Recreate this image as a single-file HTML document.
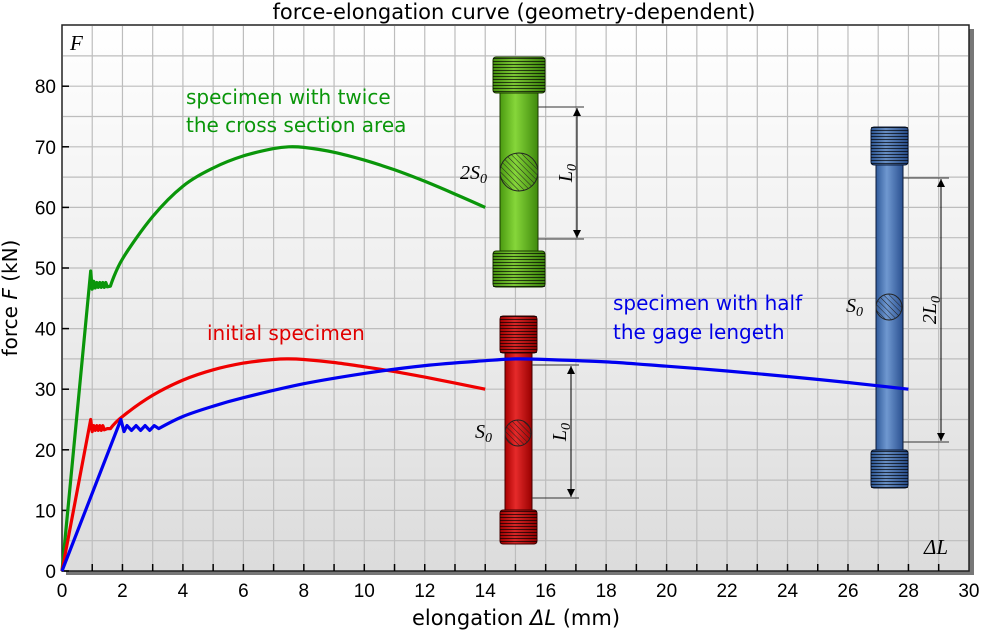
<!DOCTYPE html>
<html><head><meta charset="utf-8"><style>
html,body{margin:0;padding:0;background:#fff;}
svg{display:block;font-family:"Liberation Sans",sans-serif;}
.dv{font-family:"DejaVu Sans",sans-serif;}
</style></head><body>
<svg id="chart" width="981" height="631" viewBox="0 0 981 631">
<defs>
<linearGradient id="bg" x1="0" y1="0" x2="0" y2="1"><stop offset="0" stop-color="#ffffff"/><stop offset="1" stop-color="#dcdcdc"/></linearGradient>
<linearGradient id="gG" x1="0" x2="1"><stop offset="0" stop-color="#4a9a10"/><stop offset="0.4" stop-color="#86d63a"/><stop offset="1" stop-color="#3f8a0c"/></linearGradient>
<linearGradient id="gR" x1="0" x2="1"><stop offset="0" stop-color="#a00"/><stop offset="0.4" stop-color="#e52a2a"/><stop offset="1" stop-color="#900"/></linearGradient>
<linearGradient id="gB" x1="0" x2="1"><stop offset="0" stop-color="#2f5a9a"/><stop offset="0.4" stop-color="#6f98d0"/><stop offset="1" stop-color="#2a5090"/></linearGradient>
<pattern id="hatch" width="4" height="4" patternUnits="userSpaceOnUse" patternTransform="rotate(-45)"><rect width="4" height="4" fill="none"/><line x1="0" y1="0" x2="0" y2="4" stroke="#222" stroke-width="1"/></pattern>
<pattern id="thread" width="6" height="3" patternUnits="userSpaceOnUse"><line x1="0" y1="1.5" x2="6" y2="1.5" stroke="#000" stroke-opacity="0.7" stroke-width="1.2"/></pattern>
<marker id="arr" markerWidth="8" markerHeight="10" refX="8" refY="5" orient="auto"><path d="M0,1 L8,5 L0,9 z" fill="#000"/></marker>
</defs>
<text class="dv" x="514" y="19" text-anchor="middle" font-size="21">force-elongation curve (geometry-dependent)</text>
<rect x="66" y="29" width="908" height="546" fill="#777"/>
<rect x="62" y="25" width="907" height="546" fill="url(#bg)" stroke="#222" stroke-width="1.5"/>
<g id="grid"></g>
<g id="ticks"></g>
<text x="70" y="50" font-family="Liberation Serif,serif" font-style="italic" font-size="21">F</text>
<text x="924" y="554" font-family="Liberation Serif,serif" font-style="italic" font-size="21">ΔL</text>
<text class="dv" x="516" y="625" text-anchor="middle" font-size="21">elongation <tspan font-style="italic">ΔL</tspan> (mm)</text>
<text class="dv" transform="translate(17,298) rotate(-90)" text-anchor="middle" font-size="20">force <tspan font-style="italic">F</tspan> (kN)</text>

<g>
<rect x="500" y="90" width="38" height="163" fill="url(#gG)" stroke="#1a3a00"/>
<rect x="493" y="57" width="52" height="36" rx="3" fill="url(#gG)" stroke="#1a3a00"/><rect x="493" y="57" width="52" height="36" fill="url(#thread)"/>
<rect x="493" y="251" width="52" height="36" rx="3" fill="url(#gG)" stroke="#1a3a00"/><rect x="493" y="251" width="52" height="36" fill="url(#thread)"/>
<circle cx="519" cy="172" r="19" fill="url(#hatch)" stroke="#222"/>
<line x1="538" y1="107" x2="584" y2="107" stroke="#333"/><line x1="538" y1="239" x2="584" y2="239" stroke="#333"/>
<line x1="577" y1="140" x2="577" y2="108" stroke="#000" marker-end="url(#arr)"/><line x1="577" y1="200" x2="577" y2="238" stroke="#000" marker-end="url(#arr)"/><line x1="577" y1="140" x2="577" y2="200" stroke="#000"/>
<text x="460" y="179" font-family="Liberation Serif,serif" font-style="italic" font-size="20">2S<tspan font-size="14" dy="4">0</tspan></text>
<text transform="translate(572,173) rotate(-90)" text-anchor="middle" font-family="Liberation Serif,serif" font-style="italic" font-size="20">L<tspan font-size="14" dy="4">0</tspan></text>
</g>
<g>
<rect x="505" y="350" width="27" height="162" fill="url(#gR)" stroke="#400"/>
<rect x="500" y="316" width="37" height="37" rx="3" fill="url(#gR)" stroke="#400"/><rect x="500" y="316" width="37" height="37" fill="url(#thread)"/>
<rect x="500" y="510" width="37" height="34" rx="3" fill="url(#gR)" stroke="#400"/><rect x="500" y="510" width="37" height="34" fill="url(#thread)"/>
<circle cx="518" cy="433" r="13" fill="url(#hatch)" stroke="#222"/>
<line x1="532" y1="365" x2="579" y2="365" stroke="#333"/><line x1="532" y1="498" x2="579" y2="498" stroke="#333"/>
<line x1="571" y1="400" x2="571" y2="366" stroke="#000" marker-end="url(#arr)"/><line x1="571" y1="460" x2="571" y2="497" stroke="#000" marker-end="url(#arr)"/><line x1="571" y1="400" x2="571" y2="460" stroke="#000"/>
<text x="475" y="438" font-family="Liberation Serif,serif" font-style="italic" font-size="20">S<tspan font-size="14" dy="4">0</tspan></text>
<text transform="translate(566,432) rotate(-90)" text-anchor="middle" font-family="Liberation Serif,serif" font-style="italic" font-size="20">L<tspan font-size="14" dy="4">0</tspan></text>
</g>
<g>
<rect x="876" y="162" width="27" height="291" fill="url(#gB)" stroke="#0a1a3a"/>
<rect x="871" y="127" width="37" height="38" rx="3" fill="url(#gB)" stroke="#0a1a3a"/><rect x="871" y="127" width="37" height="38" fill="url(#thread)"/>
<rect x="871" y="450" width="37" height="38" rx="3" fill="url(#gB)" stroke="#0a1a3a"/><rect x="871" y="450" width="37" height="38" fill="url(#thread)"/>
<circle cx="889" cy="307" r="13" fill="url(#hatch)" stroke="#222"/>
<line x1="903" y1="178" x2="949" y2="178" stroke="#333"/><line x1="903" y1="442" x2="949" y2="442" stroke="#333"/>
<line x1="941" y1="270" x2="941" y2="179" stroke="#000" marker-end="url(#arr)"/><line x1="941" y1="350" x2="941" y2="441" stroke="#000" marker-end="url(#arr)"/><line x1="941" y1="270" x2="941" y2="350" stroke="#000"/>
<text x="846" y="312" font-family="Liberation Serif,serif" font-style="italic" font-size="20">S<tspan font-size="14" dy="4">0</tspan></text>
<text transform="translate(936,310) rotate(-90)" text-anchor="middle" font-family="Liberation Serif,serif" font-style="italic" font-size="20">2L<tspan font-size="14" dy="4">0</tspan></text>
</g>
<g id="series"></g>
<text class="dv" x="186" y="104" fill="#0a960a" font-size="20"><tspan x="186">specimen with twice</tspan><tspan x="186" dy="28">the cross section area</tspan></text>
<text class="dv" x="207" y="340" fill="#e00000" font-size="20">initial specimen</text>
<text class="dv" x="613" y="310" fill="#0000e6" font-size="20"><tspan x="613">specimen with half</tspan><tspan x="613" dy="29">the gage lengeth</tspan></text>
</svg>
<script>
const xTicks=[0,2,4,6,8,10,12,14,16,18,20,22,24,26,28,30];
const yTicks=[0,10,20,30,40,50,60,70,80];
const greenX=[0,0.95,1.0,1.05,1.1,1.15,1.2,1.25,1.3,1.35,1.4,1.45,1.5,1.6,2,3,4,5,6,7,7.5,8,9,10,11,12,13,14];
const greenY=[0,49.5,46.5,47.8,46.7,47.6,46.8,47.6,46.8,47.6,46.8,47.6,46.9,47,51.5,58.5,63.5,66.5,68.5,69.7,70,69.9,69.1,67.8,66.2,64.3,62.2,60];
const redX=[0,0.95,1.0,1.05,1.1,1.15,1.2,1.25,1.3,1.35,1.4,1.5,1.6,2,3,4,5,6,7,7.5,8,9,10,11,12,13,14];
const redY=[0,25,23,24,23.2,24,23.2,24,23.2,24,23.3,23.5,23.5,25.5,29,31.5,33.2,34.3,34.9,35,34.9,34.4,33.7,32.9,32,31,30];
const blueX=[0,1.95,2.05,2.15,2.3,2.45,2.6,2.75,2.9,3.05,3.2,4,5,6,8,10,12,14,15,16,18,20,22,24,26,28];
const blueY=[0,25,23,24,23.2,24,23.2,24,23.2,24,23.5,25.5,27.2,28.6,30.9,32.6,33.9,34.7,35,34.9,34.5,33.8,33,32.1,31.1,30];
const sx=v=>62+v*30.23, sy=v=>571-v*6.06;
const NS='http://www.w3.org/2000/svg';
function mk(t,a,p){const e=document.createElementNS(NS,t);for(const k in a)e.setAttribute(k,a[k]);p.appendChild(e);return e;}
const grid=document.getElementById('grid'),ticks=document.getElementById('ticks');
for(let i=1;i<30;i++){const l=mk('line',{x1:sx(i),x2:sx(i),y1:26,y2:570,stroke:'#bdbdbd','stroke-width':1.2},grid);


const t=mk('line',{x1:sx(i),x2:sx(i),y1:564,y2:571,stroke:'#000','stroke-width':1.5},ticks);

}
for(let v=5;v<90;v+=5){const l=mk('line',{x1:63,x2:968,y1:sy(v),y2:sy(v),stroke:'#bdbdbd','stroke-width':1.2},grid);

}
xTicks.forEach(v=>{const t=mk('text',{x:sx(v),y:597,'text-anchor':'middle','font-size':19},ticks);t.textContent=v;

});
yTicks.forEach(v=>{const t=mk('text',{x:56,y:sy(v)+7,'text-anchor':'end','font-size':19},ticks);t.textContent=v;


const m=mk('line',{x1:62,x2:69,y1:sy(v),y2:sy(v),stroke:'#000','stroke-width':1.5},ticks);

});
function smooth(xs,ys){
  const P=xs.map((x,i)=>[sx(x),sy(ys[i])]);
  let d='M'+P[0][0].toFixed(1)+','+P[0][1].toFixed(1);
  for(let i=0;i<P.length-1;i++){
    const p0=P[i],p1=P[i+1];
    if(xs[i+1]-xs[i]<0.3||i===0){d+=' L'+p1[0].toFixed(1)+','+p1[1].toFixed(1);continue;}
    const pm=P[i-1]||p0,pn=P[i+2]||p1;
    const useM=(xs[i]-(xs[i-1]??xs[i]))>=0.3, useN=i+2<P.length;
    const c1=useM?[p0[0]+(p1[0]-pm[0])/6,p0[1]+(p1[1]-pm[1])/6]:p0;
    const c2=useN?[p1[0]-(pn[0]-p0[0])/6,p1[1]-(pn[1]-p0[1])/6]:p1;
    d+=' C'+c1[0].toFixed(1)+','+c1[1].toFixed(1)+' '+c2[0].toFixed(1)+','+c2[1].toFixed(1)+' '+p1[0].toFixed(1)+','+p1[1].toFixed(1);
  }
  return d;
}
const series=document.getElementById('series');
[[greenX,greenY,'#0a960a','green-curve'],[redX,redY,'#f00000','red-curve'],[blueX,blueY,'#0000f0','blue-curve']].forEach(([xs,ys,c,n])=>{
const p=mk('path',{d:smooth(xs,ys),fill:'none',stroke:c,'stroke-width':3.2,'stroke-linejoin':'round'},series);

});
</script>
</body></html>
